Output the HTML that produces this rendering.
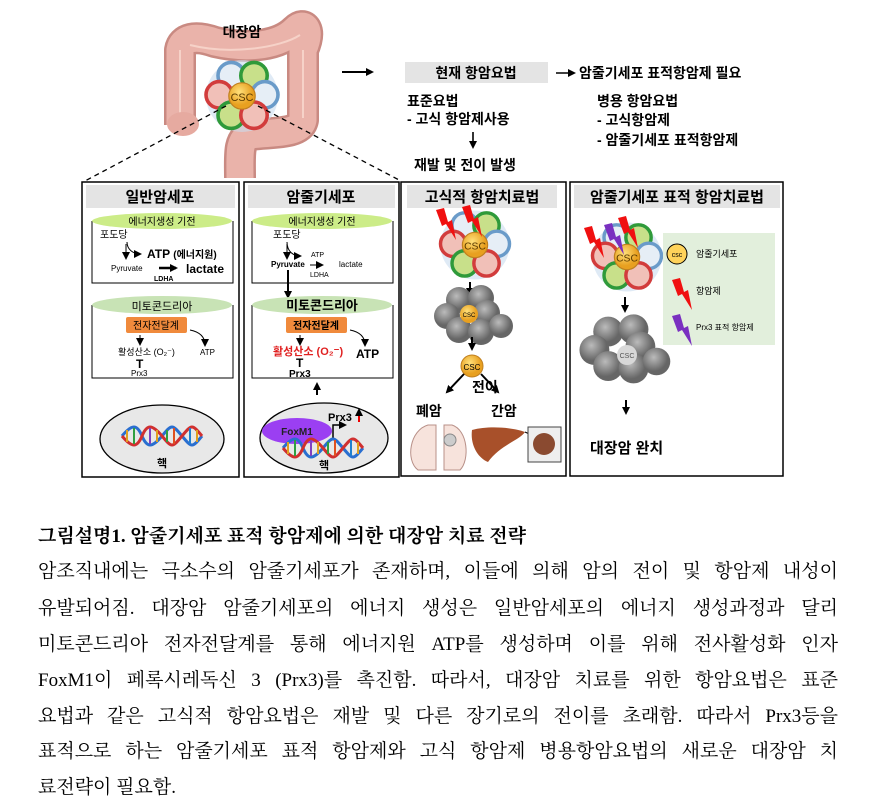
<!DOCTYPE html>
<html><head><meta charset="utf-8">
<style>
body{margin:0;background:#fff;width:879px;height:808px;overflow:hidden;position:relative;font-family:"Liberation Sans","Noto Sans CJK KR",sans-serif}
svg{position:absolute;left:0;top:0}
.cap{position:absolute;left:38px;width:800px;font-family:"Liberation Serif","Noto Serif CJK KR",serif;font-size:19px;color:#000;text-align:justify;text-align-last:justify;white-space:nowrap;line-height:24px}
</style></head><body>
<svg width="879" height="500" viewBox="0 0 879 500" font-family="Liberation Sans, Noto Sans CJK KR, sans-serif">
<defs>
<marker id="ah" markerWidth="8" markerHeight="8" refX="6" refY="4" orient="auto" markerUnits="userSpaceOnUse"><path d="M0,0 L8,4 L0,8 z" fill="#000"/></marker>
<radialGradient id="gr" cx="40%" cy="35%"><stop offset="0" stop-color="#bbb"/><stop offset="1" stop-color="#666"/></radialGradient>
<radialGradient id="yl" cx="40%" cy="35%"><stop offset="0" stop-color="#ffe07a"/><stop offset="1" stop-color="#e8a020"/></radialGradient>
<g id="clus">
<circle cx="0" cy="0" r="30" fill="#c9dcef" opacity=".6"/>
<circle cx="-9" cy="-17" r="11" fill="#e6eef6" stroke="#6a9bc9" stroke-width="3"/>
<circle cx="10" cy="-17" r="11" fill="#c8e08a" stroke="#2f9a3a" stroke-width="3"/>
<circle cx="-19" cy="-1" r="11" fill="#f1c0b8" stroke="#d23c3c" stroke-width="3"/>
<circle cx="19" cy="-1" r="11" fill="#e6eef6" stroke="#6a9bc9" stroke-width="3"/>
<circle cx="-9" cy="16" r="11" fill="#c8e08a" stroke="#2f9a3a" stroke-width="3"/>
<circle cx="10" cy="16" r="11" fill="#f1c0b8" stroke="#d23c3c" stroke-width="3"/>
<circle cx="0" cy="0" r="11" fill="url(#yl)" stroke="#c08020"/>
<text x="0" y="4" font-size="9" text-anchor="middle" fill="#5a3a00">CSC</text>
</g>
<g id="gclus">
<circle cx="-12" cy="-16" r="13" fill="url(#gr)"/><circle cx="10" cy="-18" r="13" fill="url(#gr)"/>
<circle cx="-24" cy="0" r="13" fill="url(#gr)"/><circle cx="16" cy="-3" r="13" fill="url(#gr)"/>
<circle cx="-12" cy="14" r="13" fill="url(#gr)"/><circle cx="10" cy="16" r="13" fill="url(#gr)"/>
<circle cx="30" cy="10" r="12" fill="url(#gr)"/>
</g>
<g id="dna">
<path d="M0,0 C10,-12 15,-12 20,0 S30,12 40,0 S50,-12 60,0 S70,12 80,0" fill="none" stroke="#2a6fd0" stroke-width="3"/>
<path d="M0,0 C10,12 15,12 20,0 S30,-12 40,0 S50,12 60,0 S70,-12 80,0" fill="none" stroke="#d03030" stroke-width="3"/>
<g stroke-width="2"><line x1="5" y1="-6" x2="5" y2="6" stroke="#e0a020"/><line x1="12" y1="-8" x2="12" y2="8" stroke="#30a040"/><line x1="28" y1="-8" x2="28" y2="8" stroke="#8040c0"/><line x1="35" y1="-6" x2="35" y2="6" stroke="#e0a020"/><line x1="45" y1="-6" x2="45" y2="6" stroke="#30a040"/><line x1="52" y1="-8" x2="52" y2="8" stroke="#e05020"/><line x1="68" y1="-8" x2="68" y2="8" stroke="#2080d0"/><line x1="75" y1="-6" x2="75" y2="6" stroke="#e0a020"/></g>
</g>
<path id="bolt" d="M0,0 L8,-2 L12,12 L16,10 L20,30 L10,14 L6,16 z"/>
</defs>

<!-- colon -->
<path d="M180,125 L180,50 C182,38 195,35 215,42 C250,50 280,45 295,30 C305,20 312,30 303,50 L303,120 C300,135 270,132 250,135 C238,140 240,155 240,178" fill="none" stroke="#c98a82" stroke-width="32" stroke-linejoin="round"/>
<path d="M180,125 L180,50 C182,38 195,35 215,42 C250,50 280,45 295,30 C305,20 312,30 303,50 L303,120 C300,135 270,132 250,135 C238,140 240,155 240,178" fill="none" stroke="#eab3aa" stroke-width="27" stroke-linejoin="round"/>
<path d="M180,122 L180,50 M190,45 C230,55 280,48 300,35 M303,50 L303,118" fill="none" stroke="#f6d2c8" stroke-width="2"/>
<ellipse cx="183" cy="124" rx="16" ry="12" fill="#e6aaa0"/>
<text x="242" y="37" font-size="14" font-weight="bold" text-anchor="middle">대장암</text>
<use href="#clus" transform="translate(242,96) scale(1.2)"/>
<line x1="226" y1="106" x2="85" y2="181" stroke="#000" stroke-dasharray="5,4" stroke-width="1.3"/>
<line x1="258" y1="106" x2="401" y2="181" stroke="#000" stroke-dasharray="5,4" stroke-width="1.3"/>

<!-- top right -->
<line x1="342" y1="72" x2="372" y2="72" stroke="#000" stroke-width="2" marker-end="url(#ah)"/>
<rect x="405" y="62" width="143" height="21" fill="#e4e4e4"/>
<text x="476" y="78" font-size="14" font-weight="bold" text-anchor="middle">현재 항암요법</text>
<line x1="556" y1="73" x2="574" y2="73" stroke="#000" stroke-width="1.6" marker-end="url(#ah)"/>
<text x="579" y="78" font-size="14" font-weight="bold">암줄기세포 표적항암제 필요</text>
<text x="407" y="106" font-size="14" font-weight="bold">표준요법</text>
<text x="407" y="124" font-size="14" font-weight="bold">- 고식 항암제사용</text>
<line x1="473" y1="132" x2="473" y2="147" stroke="#000" stroke-width="1.6" marker-end="url(#ah)"/>
<text x="414" y="170" font-size="14" font-weight="bold">재발 및 전이 발생</text>
<text x="597" y="106" font-size="14" font-weight="bold">병용 항암요법</text>
<text x="597" y="125" font-size="14" font-weight="bold">-  고식항암제</text>
<text x="597" y="145" font-size="14" font-weight="bold">-  암줄기세포 표적항암제</text>

<!-- panel frames -->
<g fill="none" stroke="#000" stroke-width="1.5">
<rect x="82" y="182" width="157" height="295"/>
<rect x="244" y="182" width="155" height="295"/>
<rect x="401" y="182" width="165" height="294"/>
<rect x="570" y="182" width="213" height="294"/>
</g>
<g fill="#e4e4e4">
<rect x="86" y="185" width="149" height="23"/><rect x="248" y="185" width="147" height="23"/>
<rect x="407" y="185" width="150" height="23"/><rect x="574" y="185" width="206" height="23"/>
</g>
<g font-size="15" font-weight="bold" text-anchor="middle">
<text x="160" y="202">일반암세포</text><text x="321" y="202">암줄기세포</text>
<text x="482" y="202">고식적 항암치료법</text><text x="677" y="202">암줄기세포 표적 항암치료법</text>
</g>

<!-- panel1 -->
<g fill="none" stroke="#000" stroke-width="1"><path d="M92,221 V283 H233 V221"/><path d="M92,305 V378 H233 V305"/></g>
<ellipse cx="162" cy="221" rx="70" ry="8" fill="#ccec88"/>
<text x="162" y="225" font-size="10" text-anchor="middle">에너지생성 기전</text>
<text x="100" y="238" font-size="10">포도당</text>
<path d="M127,242 C127,250 134,254 140,254" fill="none" stroke="#000" marker-end="url(#ah)"/>
<line x1="126" y1="244" x2="126" y2="258" stroke="#000" marker-end="url(#ah)"/>
<text x="147" y="258" font-size="12" font-weight="bold">ATP <tspan font-size="10">(에너지원)</tspan></text>
<text x="111" y="271" font-size="8">Pyruvate</text>
<line x1="159" y1="268" x2="176" y2="268" stroke="#000" stroke-width="2.5" marker-end="url(#ah)"/>
<text x="186" y="273" font-size="12" font-weight="bold">lactate</text>
<text x="154" y="281" font-size="7" font-weight="bold">LDHA</text>
<ellipse cx="162" cy="305" rx="70" ry="9" fill="#c8e3b5"/>
<text x="162" y="310" font-size="11" text-anchor="middle">미토콘드리아</text>
<rect x="126" y="317" width="61" height="16" rx="2" fill="#f08a3c"/>
<text x="156" y="329" font-size="10" text-anchor="middle">전자전달계</text>
<line x1="140" y1="335" x2="140" y2="344" stroke="#000" marker-end="url(#ah)"/>
<path d="M190,330 C200,332 205,337 205,345" fill="none" stroke="#000" marker-end="url(#ah)"/>
<text x="118" y="355" font-size="9">활성산소 (O₂⁻)</text>
<text x="200" y="355" font-size="8">ATP</text>
<text x="136" y="368" font-size="12" font-weight="bold">T</text>
<text x="131" y="376" font-size="8">Prx3</text>
<ellipse cx="162" cy="439" rx="62" ry="34" fill="#e8e8e8" stroke="#000" stroke-width="1.3"/>
<use href="#dna" x="122" y="436"/>
<text x="162" y="467" font-size="11" font-weight="bold" text-anchor="middle">핵</text>

<!-- panel2 -->
<g fill="none" stroke="#000" stroke-width="1"><path d="M252,221 V283 H393 V221"/><path d="M252,305 V378 H393 V305"/></g>
<ellipse cx="322" cy="221" rx="70" ry="8" fill="#ccec88"/>
<text x="322" y="225" font-size="10" text-anchor="middle">에너지생성 기전</text>
<text x="273" y="238" font-size="10">포도당</text>
<path d="M287,242 C287,252 294,256 300,256" fill="none" stroke="#000" marker-end="url(#ah)"/>
<line x1="287" y1="244" x2="287" y2="258" stroke="#000" marker-end="url(#ah)"/>
<text x="271" y="267" font-size="8" font-weight="bold">Pyruvate</text>
<text x="311" y="257" font-size="7">ATP</text>
<line x1="310" y1="265" x2="322" y2="265" stroke="#000" marker-end="url(#ah)"/>
<text x="339" y="267" font-size="8">lactate</text>
<text x="310" y="277" font-size="7">LDHA</text>
<line x1="288" y1="270" x2="288" y2="297" stroke="#000" stroke-width="2" marker-end="url(#ah)"/>
<ellipse cx="322" cy="305" rx="70" ry="9" fill="#c8e3b5"/>
<text x="322" y="310" font-size="13" font-weight="bold" text-anchor="middle">미토콘드리아</text>
<rect x="286" y="317" width="61" height="16" rx="2" fill="#f08a3c"/>
<text x="316" y="329" font-size="10" font-weight="bold" text-anchor="middle">전자전달계</text>
<line x1="300" y1="335" x2="300" y2="344" stroke="#000" marker-end="url(#ah)"/>
<path d="M350,330 C360,332 365,337 365,345" fill="none" stroke="#000" marker-end="url(#ah)"/>
<text x="273" y="355" font-size="11" font-weight="bold" fill="#e02020">활성산소 (O₂⁻)</text>
<text x="356" y="358" font-size="12" font-weight="bold">ATP</text>
<text x="296" y="367" font-size="12" font-weight="bold">T</text>
<text x="289" y="377" font-size="10" font-weight="bold">Prx3</text>
<line x1="317" y1="395" x2="317" y2="384" stroke="#000" stroke-width="2" marker-end="url(#ah)"/>
<ellipse cx="324" cy="438" rx="64" ry="35" fill="#e8e8e8" stroke="#000" stroke-width="1.3"/>
<ellipse cx="297" cy="431" rx="35" ry="13" fill="#9b3ff2"/>
<text x="297" y="435" font-size="10" font-weight="bold" fill="#222" text-anchor="middle">FoxM1</text>
<path d="M333,440 V425 H345" fill="none" stroke="#000" stroke-width="1.5" marker-end="url(#ah)"/>
<text x="328" y="421" font-size="11" font-weight="bold">Prx3</text>
<line x1="359" y1="422" x2="359" y2="410" stroke="#e00" stroke-width="2" marker-end="url(#ah)"/>
<use href="#dna" x="283" y="448"/>
<text x="324" y="469" font-size="11" font-weight="bold" text-anchor="middle">핵</text>

<!-- panel3 -->
<use href="#clus" transform="translate(475,245) scale(1.15)"/>
<use href="#bolt" x="436" y="210" fill="#f01010"/>
<use href="#bolt" x="462" y="207" fill="#f01010"/>
<line x1="470" y1="282" x2="470" y2="294" stroke="#000" stroke-width="2" marker-end="url(#ah)"/>
<use href="#gclus" x="471" y="316"/>
<circle cx="469" cy="314" r="9" fill="url(#yl)"/><text x="469" y="317" font-size="6" text-anchor="middle">CSC</text>
<line x1="472" y1="337" x2="472" y2="349" stroke="#000" stroke-width="2" marker-end="url(#ah)"/>
<circle cx="472" cy="366" r="11" fill="url(#yl)" stroke="#c08020"/>
<text x="472" y="370" font-size="8" text-anchor="middle">CSC</text>
<line x1="464" y1="374" x2="447" y2="392" stroke="#000" stroke-width="2" marker-end="url(#ah)"/>
<line x1="481" y1="374" x2="498" y2="392" stroke="#000" stroke-width="2" marker-end="url(#ah)"/>
<text x="472" y="392" font-size="14" font-weight="bold">전이</text>
<text x="416" y="416" font-size="14" font-weight="bold">폐암</text>
<text x="491" y="416" font-size="14" font-weight="bold">간암</text>
<path d="M418,470 C405,460 410,430 428,425 L436,425 L436,470 z M444,470 L444,425 L452,425 C468,430 470,460 460,470 z" fill="#f7e3dc" stroke="#b89088"/>
<circle cx="450" cy="440" r="6" fill="#ccc" stroke="#888"/>
<path d="M472,430 C490,425 515,428 525,432 C520,440 500,445 488,462 C478,458 470,445 472,430 z" fill="#a8502a"/>
<line x1="525" y1="432" x2="538" y2="438" stroke="#000"/>
<rect x="528" y="427" width="33" height="35" fill="#eee" stroke="#444"/>
<circle cx="544" cy="444" r="11" fill="#8a4a30"/>

<!-- panel4 -->
<use href="#clus" transform="translate(627,257) scale(1.15)"/>
<use href="#bolt" x="584" y="228" fill="#f01010"/>
<use href="#bolt" x="604" y="225" fill="#7a30c0"/>
<use href="#bolt" x="618" y="218" fill="#f01010"/>
<rect x="663" y="233" width="112" height="112" fill="#e2efdc"/>
<circle cx="677" cy="254" r="10" fill="#ffd35a" stroke="#000"/><text x="677" y="257" font-size="7" text-anchor="middle">csc</text>
<text x="696" y="257" font-size="9">암줄기세포</text>
<use href="#bolt" x="672" y="280" fill="#f01010"/>
<text x="696" y="294" font-size="9">항암제</text>
<use href="#bolt" x="672" y="316" fill="#7a30c0"/>
<text x="696" y="330" font-size="8">Prx3 표적 항암제</text>
<line x1="625" y1="297" x2="625" y2="311" stroke="#000" stroke-width="2" marker-end="url(#ah)"/>
<use href="#gclus" transform="translate(622,350) scale(1.15)"/>
<circle cx="627" cy="355" r="10" fill="#d8d8d8"/><text x="627" y="358" font-size="7" text-anchor="middle" fill="#555">CSC</text>
<line x1="626" y1="400" x2="626" y2="413" stroke="#000" stroke-width="2" marker-end="url(#ah)"/>
<text x="590" y="453" font-size="15" font-weight="bold">대장암 완치</text>
</svg>

<div class="cap" style="top:525px;font-weight:bold;text-align:left;text-align-last:left">그림설명1. 암줄기세포 표적 항암제에 의한 대장암 치료 전략</div>
<div class="cap" style="top:560px">암조직내에는 극소수의 암줄기세포가 존재하며, 이들에 의해 암의 전이 및 항암제 내성이</div>
<div class="cap" style="top:597px">유발되어짐. 대장암 암줄기세포의 에너지 생성은 일반암세포의 에너지 생성과정과 달리</div>
<div class="cap" style="top:633px">미토콘드리아 전자전달계를 통해 에너지원 ATP를 생성하며 이를 위해 전사활성화 인자</div>
<div class="cap" style="top:669px">FoxM1이 페록시레독신 3 (Prx3)를 촉진함. 따라서, 대장암 치료를 위한 항암요법은 표준</div>
<div class="cap" style="top:705px">요법과 같은 고식적 항암요법은 재발 및 다른 장기로의 전이를 초래함. 따라서 Prx3등을</div>
<div class="cap" style="top:740px">표적으로 하는 암줄기세포 표적 항암제와 고식 항암제 병용항암요법의 새로운 대장암 치</div>
<div class="cap" style="top:776px;text-align:left;text-align-last:left">료전략이 필요함.</div>
</body></html>
